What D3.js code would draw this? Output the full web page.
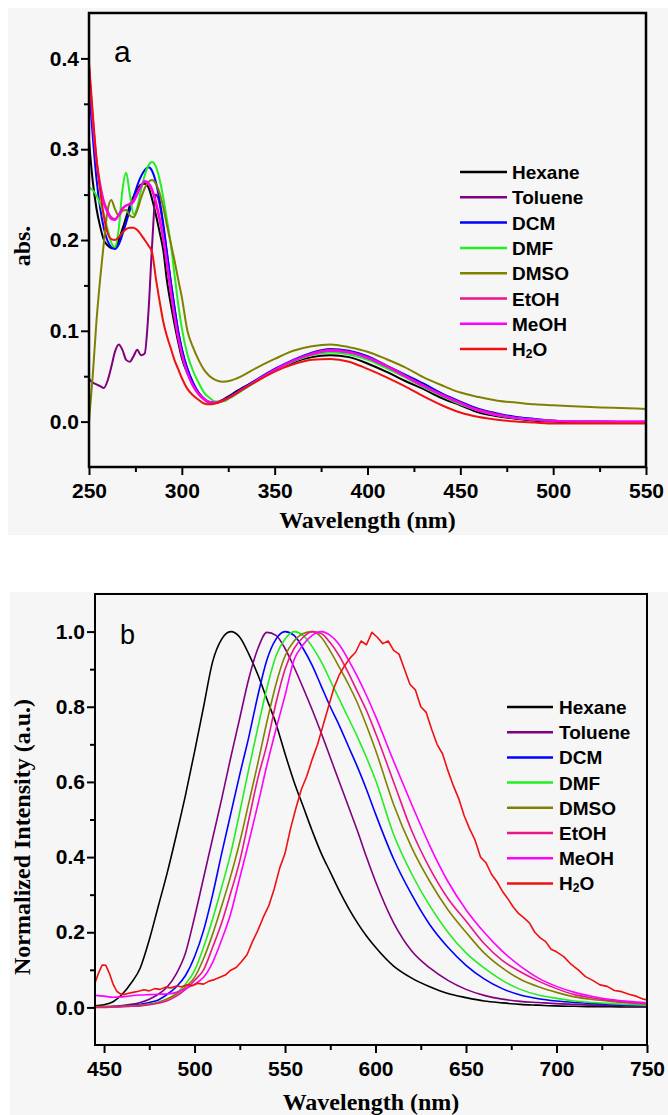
<!DOCTYPE html>
<html>
<head>
<meta charset="utf-8">
<script src="https://cdn.jsdelivr.net/npm/d3@7"></script>
<style>
  body { margin: 0; background: #fff; }
  svg text { font-family: "Liberation Sans", Arial, sans-serif; }
  .tick text { font-weight: bold; fill: #000; }
  .title { font-family: "Liberation Serif", "Times New Roman", serif !important; font-weight: bold; }
</style>
</head>
<body>
<div id="chart"></div>
<script>
// ---- data ----
var solvents = ["Hexane", "Toluene", "DCM", "DMF", "DMSO", "EtOH", "MeOH", "H2O"];
var colors = ["#000000", "#800080", "#0000ff", "#22ee22", "#808000", "#e8168a", "#ff00ff", "#f01010"];

// (a) absorption
var absWavelengths = [250,252,254,256,258,260,262,264,266,268,270,272,274,276,278,280,282,284,286,288,290,292,294,296,298,300,303,306,309,312,315,318,322,326,330,340,350,360,370,380,390,400,410,420,430,440,450,460,470,480,490,500,520,550];
var absHexane  = [0.31,0.265,0.235,0.215,0.2,0.194,0.191,0.192,0.2,0.212,0.225,0.238,0.248,0.256,0.261,0.262,0.258,0.245,0.228,0.209,0.189,0.155,0.13,0.108,0.088,0.07,0.053,0.041,0.031,0.025,0.021,0.021,0.024,0.029,0.034,0.045,0.056,0.065,0.071,0.073,0.071,0.064,0.055,0.045,0.036,0.026,0.018,0.01,0.006,0.003,0.001,0,-0.001,-0.001];
var absToluene = [0.047,0.043,0.041,0.039,0.037,0.045,0.06,0.077,0.085,0.079,0.068,0.066,0.072,0.079,0.073,0.075,0.12,0.195,0.25,0.24,0.215,0.185,0.155,0.127,0.1,0.08,0.058,0.043,0.032,0.025,0.021,0.021,0.023,0.028,0.033,0.045,0.057,0.067,0.074,0.077,0.076,0.07,0.06,0.05,0.039,0.029,0.02,0.013,0.008,0.004,0.002,0.001,0,-0.001];
var absDCM     = [0.37,0.315,0.268,0.235,0.213,0.199,0.192,0.19,0.195,0.206,0.219,0.233,0.247,0.26,0.27,0.277,0.28,0.276,0.264,0.244,0.218,0.186,0.155,0.126,0.1,0.08,0.058,0.043,0.032,0.025,0.021,0.021,0.023,0.028,0.033,0.046,0.058,0.068,0.076,0.08,0.078,0.072,0.062,0.052,0.042,0.031,0.022,0.014,0.009,0.005,0.003,0.001,0,-0.001];
var absDMF     = [0.258,0.255,0.249,0.24,0.228,0.212,0.197,0.192,0.212,0.255,0.274,0.25,0.228,0.236,0.255,0.271,0.282,0.286,0.281,0.267,0.247,0.222,0.196,0.163,0.13,0.103,0.074,0.056,0.043,0.032,0.026,0.022,0.022,0.026,0.031,0.044,0.056,0.066,0.073,0.076,0.074,0.068,0.059,0.049,0.038,0.028,0.019,0.012,0.007,0.004,0.002,0.001,0,-0.001];
var absDMSO    = [0.0,0.05,0.11,0.157,0.197,0.232,0.244,0.234,0.227,0.232,0.233,0.227,0.225,0.233,0.246,0.257,0.264,0.266,0.262,0.252,0.236,0.216,0.197,0.178,0.157,0.137,0.1,0.082,0.068,0.057,0.05,0.046,0.044,0.045,0.048,0.059,0.069,0.078,0.083,0.085,0.082,0.077,0.069,0.06,0.049,0.04,0.032,0.027,0.023,0.021,0.019,0.018,0.016,0.014];
var absEtOH    = [0.39,0.335,0.29,0.262,0.243,0.232,0.225,0.223,0.228,0.235,0.238,0.24,0.244,0.252,0.26,0.264,0.262,0.254,0.24,0.222,0.2,0.172,0.142,0.115,0.092,0.073,0.053,0.039,0.03,0.024,0.021,0.021,0.023,0.027,0.032,0.045,0.057,0.067,0.075,0.079,0.077,0.071,0.062,0.051,0.04,0.03,0.021,0.013,0.008,0.004,0.002,0.001,0,0];
var absMeOH    = [0.385,0.33,0.286,0.258,0.24,0.23,0.223,0.222,0.227,0.234,0.238,0.239,0.242,0.25,0.259,0.265,0.263,0.256,0.243,0.225,0.203,0.176,0.146,0.118,0.094,0.075,0.054,0.04,0.031,0.025,0.022,0.021,0.023,0.027,0.032,0.045,0.057,0.067,0.074,0.078,0.076,0.07,0.061,0.05,0.039,0.029,0.02,0.012,0.007,0.004,0.002,0.001,0,0];
var absH2O     = [0.395,0.34,0.29,0.255,0.226,0.208,0.201,0.2,0.203,0.208,0.212,0.2135,0.2135,0.211,0.206,0.2,0.194,0.186,0.158,0.133,0.11,0.094,0.081,0.068,0.058,0.048,0.036,0.029,0.024,0.02,0.019,0.02,0.023,0.027,0.032,0.044,0.055,0.063,0.068,0.069,0.066,0.058,0.049,0.039,0.028,0.018,0.01,0.005,0.002,0,-0.001,-0.002,-0.002,-0.002];

// (b) normalized emission
var emWavelengths = [445,450,455,460,465,470,475,480,485,490,495,500,505,510,515,520,525,530,535,540,545,550,555,560,565,570,575,580,585,590,595,600,610,620,630,640,650,660,670,680,690,700,710,720,730,740,750];
var emHexane  = [0.004,0.007,0.015,0.035,0.065,0.105,0.18,0.27,0.36,0.46,0.565,0.68,0.8,0.92,0.98,1.0,0.985,0.94,0.885,0.82,0.755,0.675,0.6,0.535,0.47,0.41,0.36,0.31,0.265,0.225,0.19,0.16,0.11,0.078,0.055,0.037,0.026,0.017,0.012,0.008,0.006,0.004,0.003,0.002,0.002,0.001,0.001];
var emToluene = [0.002,0.002,0.003,0.005,0.008,0.013,0.022,0.035,0.055,0.09,0.145,0.24,0.345,0.45,0.555,0.665,0.77,0.875,0.955,0.998,0.99,0.955,0.905,0.85,0.792,0.73,0.665,0.6,0.535,0.47,0.4,0.335,0.225,0.15,0.105,0.072,0.048,0.032,0.022,0.016,0.013,0.01,0.008,0.006,0.005,0.004,0.003];
var emDCM     = [0.001,0.001,0.002,0.003,0.005,0.008,0.013,0.02,0.035,0.055,0.085,0.135,0.205,0.3,0.41,0.515,0.62,0.72,0.83,0.925,0.98,1.0,0.99,0.955,0.91,0.855,0.8,0.75,0.695,0.64,0.58,0.515,0.395,0.3,0.22,0.16,0.112,0.076,0.05,0.033,0.023,0.017,0.013,0.01,0.008,0.006,0.005];
var emDMF     = [0.001,0.001,0.001,0.002,0.003,0.005,0.008,0.013,0.022,0.038,0.062,0.098,0.16,0.235,0.32,0.41,0.52,0.635,0.745,0.85,0.935,0.98,1.0,0.99,0.96,0.92,0.87,0.82,0.77,0.72,0.665,0.605,0.46,0.355,0.27,0.2,0.145,0.105,0.072,0.048,0.033,0.024,0.017,0.013,0.01,0.008,0.006];
var emDMSO    = [0.002,0.002,0.002,0.003,0.004,0.006,0.009,0.014,0.023,0.035,0.055,0.08,0.13,0.195,0.27,0.35,0.44,0.545,0.65,0.76,0.86,0.935,0.975,0.995,1.0,0.985,0.948,0.905,0.86,0.81,0.75,0.685,0.54,0.425,0.335,0.26,0.2,0.145,0.105,0.075,0.055,0.04,0.028,0.021,0.016,0.012,0.009];
var emEtOH    = [0,0,0.001,0.002,0.003,0.004,0.007,0.011,0.018,0.03,0.048,0.072,0.1,0.16,0.225,0.305,0.39,0.5,0.61,0.7,0.81,0.9,0.955,0.985,1.0,0.995,0.97,0.935,0.89,0.84,0.79,0.73,0.6,0.47,0.37,0.29,0.23,0.17,0.125,0.095,0.07,0.05,0.034,0.025,0.018,0.013,0.01];
var emMeOH    = [0.032,0.03,0.027,0.028,0.031,0.033,0.034,0.035,0.036,0.04,0.05,0.062,0.08,0.12,0.18,0.25,0.345,0.44,0.54,0.645,0.74,0.83,0.925,0.965,0.99,1.0,0.99,0.965,0.925,0.88,0.83,0.775,0.655,0.54,0.43,0.335,0.26,0.2,0.15,0.11,0.078,0.056,0.04,0.029,0.021,0.016,0.012];
// water is noisy, so it keeps its own wavelength list: [nm, intensity]
var emH2O = [[445,0.065],[447,0.092],[449,0.113],[451,0.112],[453,0.09],[455,0.062],[457,0.043],[459,0.036],[461,0.034],[463,0.037],[466,0.04],[469,0.043],[472,0.047],[475,0.044],[478,0.05],[481,0.048],[484,0.054],[487,0.052],[490,0.057],[493,0.055],[496,0.06],[499,0.058],[502,0.064],[505,0.062],[508,0.07],[511,0.074],[514,0.08],[517,0.086],[520,0.099],[523,0.106],[526,0.122],[529,0.14],[532,0.175],[535,0.205],[538,0.24],[541,0.27],[544,0.315],[547,0.37],[550,0.41],[553,0.475],[556,0.53],[559,0.58],[562,0.615],[565,0.66],[568,0.7],[571,0.75],[574,0.8],[577,0.85],[580,0.885],[583,0.91],[586,0.93],[589,0.945],[592,0.975],[595,0.965],[598,0.998],[601,0.985],[604,0.968],[607,0.975],[610,0.95],[613,0.94],[616,0.9],[619,0.86],[622,0.845],[625,0.8],[628,0.785],[631,0.74],[634,0.7],[637,0.675],[640,0.63],[643,0.59],[646,0.555],[649,0.51],[652,0.475],[655,0.445],[658,0.4],[661,0.385],[664,0.355],[667,0.335],[670,0.31],[673,0.29],[676,0.268],[679,0.25],[682,0.238],[685,0.225],[688,0.2],[691,0.185],[694,0.175],[697,0.155],[700,0.148],[704,0.135],[708,0.115],[712,0.1],[716,0.082],[720,0.072],[724,0.06],[728,0.056],[732,0.045],[736,0.042],[740,0.035],[744,0.03],[748,0.022],[750,0.02]];

var absXTicks = [250,300,350,400,450,500,550];
var absXMinor = [275,325,375,425,475,525];
var absYTicks = [0,0.1,0.2,0.3,0.4];
var absYMinor = [0.05,0.15,0.25,0.35];
var emXTicks = [450,500,550,600,650,700,750];
var emXMinor = [475,525,575,625,675,725];
var emYTicks = [0,0.2,0.4,0.6,0.8,1.0];
var emYMinor = [0.1,0.3,0.5,0.7,0.9];

// ---- drawing ----
var svg = d3.select("#chart").append("svg")
  .attr("width", 668)
  .attr("height", 1115);

function zipSeries(xs, ys) {
  return xs.map(function(w, i) { return [w, ys[i]]; });
}

function drawPanel(p) {
  var g = svg.append("g");

  g.append("rect")
    .attr("x", p.bg[0]).attr("y", p.bg[1])
    .attr("width", p.bg[2]).attr("height", p.bg[3])
    .attr("fill", "#f6f6f6");

  var x = d3.scaleLinear().domain(p.xDomain).range([p.left, p.right]);
  var y = d3.scaleLinear().domain(p.yDomain).range([p.bottom, p.top]);

  // minor + major ticks, bottom
  g.append("g")
    .attr("transform", "translate(0," + p.bottom + ")")
    .call(d3.axisBottom(x).tickValues(p.xMinor).tickSize(5).tickFormat(""))
    .call(function(a) { a.select(".domain").remove(); })
    .selectAll("line").attr("stroke-width", 2);
  g.append("g")
    .attr("transform", "translate(0," + p.bottom + ")")
    .call(d3.axisBottom(x).tickValues(p.xTicks).tickSize(8).tickPadding(8).tickFormat(d3.format("d")))
    .call(function(a) {
      a.select(".domain").remove();
      a.selectAll("line").attr("stroke-width", 2);
      a.selectAll("text").style("font-size", "21px");
    });

  // left
  g.append("g")
    .attr("transform", "translate(" + p.left + ",0)")
    .call(d3.axisLeft(y).tickValues(p.yMinor).tickSize(5).tickFormat(""))
    .call(function(a) { a.select(".domain").remove(); })
    .selectAll("line").attr("stroke-width", 2);
  g.append("g")
    .attr("transform", "translate(" + p.left + ",0)")
    .call(d3.axisLeft(y).tickValues(p.yTicks).tickSize(8).tickPadding(2).tickFormat(d3.format(".1f")))
    .call(function(a) {
      a.select(".domain").remove();
      a.selectAll("line").attr("stroke-width", 2);
      a.selectAll("text").style("font-size", "21px");
    });

  // clip + curves
  var clipId = "clip-" + p.name;
  svg.append("clipPath").attr("id", clipId)
    .append("rect")
    .attr("x", p.left).attr("y", p.top)
    .attr("width", p.right - p.left).attr("height", p.bottom - p.top);

  var line = d3.line()
    .x(function(d) { return x(d[0]); })
    .y(function(d) { return y(d[1]); })
    .curve(d3.curveMonotoneX);
  var rough = d3.line()
    .x(function(d) { return x(d[0]); })
    .y(function(d) { return y(d[1]); });

  var curves = g.append("g").attr("clip-path", "url(#" + clipId + ")");
  p.series.forEach(function(s, i) {
    curves.append("path")
      .attr("d", (s.noisy ? rough : line)(s.data))
      .attr("fill", "none")
      .attr("stroke", colors[i])
      .attr("stroke-width", p.lineWidth)
      .attr("stroke-linejoin", "round");
  });

  // frame
  g.append("rect")
    .attr("x", p.left).attr("y", p.top)
    .attr("width", p.right - p.left).attr("height", p.bottom - p.top)
    .attr("fill", "none")
    .attr("stroke", "#000")
    .attr("stroke-width", p.frameWidth);

  // legend
  var leg = g.append("g");
  solvents.forEach(function(name, i) {
    var yy = p.legend.y + i * p.legend.step;
    leg.append("line")
      .attr("x1", p.legend.x1).attr("x2", p.legend.x2)
      .attr("y1", yy).attr("y2", yy)
      .attr("stroke", colors[i])
      .attr("stroke-width", 2.5);
    var t = leg.append("text")
      .attr("x", p.legend.tx).attr("y", yy + 7)
      .style("font-size", "19px")
      .style("font-weight", "bold");
    if (name === "H2O") {
      t.append("tspan").text("H");
      t.append("tspan").attr("dy", 2).style("font-size", "12px").text("2");
      t.append("tspan").attr("dy", -2).text("O");
    } else {
      t.text(name);
    }
  });

  // panel letter
  g.append("text")
    .attr("x", p.letter.x).attr("y", p.letter.y)
    .style("font-size", p.letter.size + "px")
    .text(p.name);

  // axis titles
  g.append("text")
    .attr("class", "title")
    .attr("x", (p.left + p.right) / 2)
    .attr("y", p.xTitleY)
    .attr("text-anchor", "middle")
    .style("font-size", "24px")
    .text("Wavelength (nm)");
  g.append("text")
    .attr("class", "title")
    .attr("transform", "translate(30," + p.yTitleY + ") rotate(-90)")
    .attr("text-anchor", "middle")
    .style("font-size", "24px")
    .text(p.yTitle);
}

drawPanel({
  name: "a",
  bg: [8, 8, 660, 527],
  left: 89, right: 646, top: 13, bottom: 467,
  xDomain: [250, 550], yDomain: [-0.05, 0.45],
  xTicks: absXTicks, xMinor: absXMinor, yTicks: absYTicks, yMinor: absYMinor,
  lineWidth: 2, frameWidth: 2.5,
  series: [absHexane, absToluene, absDCM, absDMF, absDMSO, absEtOH, absMeOH, absH2O]
    .map(function(v) { return { data: zipSeries(absWavelengths, v) }; }),
  legend: { x1: 460, x2: 507, tx: 512, y: 172, step: 25.3 },
  letter: { x: 114, y: 62, size: 30 },
  xTitleY: 528,
  yTitle: "abs.",
  yTitleY: 246
});

drawPanel({
  name: "b",
  bg: [10, 592, 658, 523],
  left: 95, right: 647, top: 594, bottom: 1045,
  xDomain: [445, 750], yDomain: [-0.1, 1.1],
  xTicks: emXTicks, xMinor: emXMinor, yTicks: emYTicks, yMinor: emYMinor,
  lineWidth: 1.6, frameWidth: 2,
  series: [emHexane, emToluene, emDCM, emDMF, emDMSO, emEtOH, emMeOH]
    .map(function(v) { return { data: zipSeries(emWavelengths, v) }; })
    .concat([{ data: emH2O, noisy: true }]),
  legend: { x1: 507, x2: 553, tx: 559, y: 707, step: 25.2 },
  letter: { x: 120, y: 644, size: 27 },
  xTitleY: 1110,
  yTitle: "Normalized Intensity (a.u.)",
  yTitleY: 837
});
</script>
</body>
</html>
